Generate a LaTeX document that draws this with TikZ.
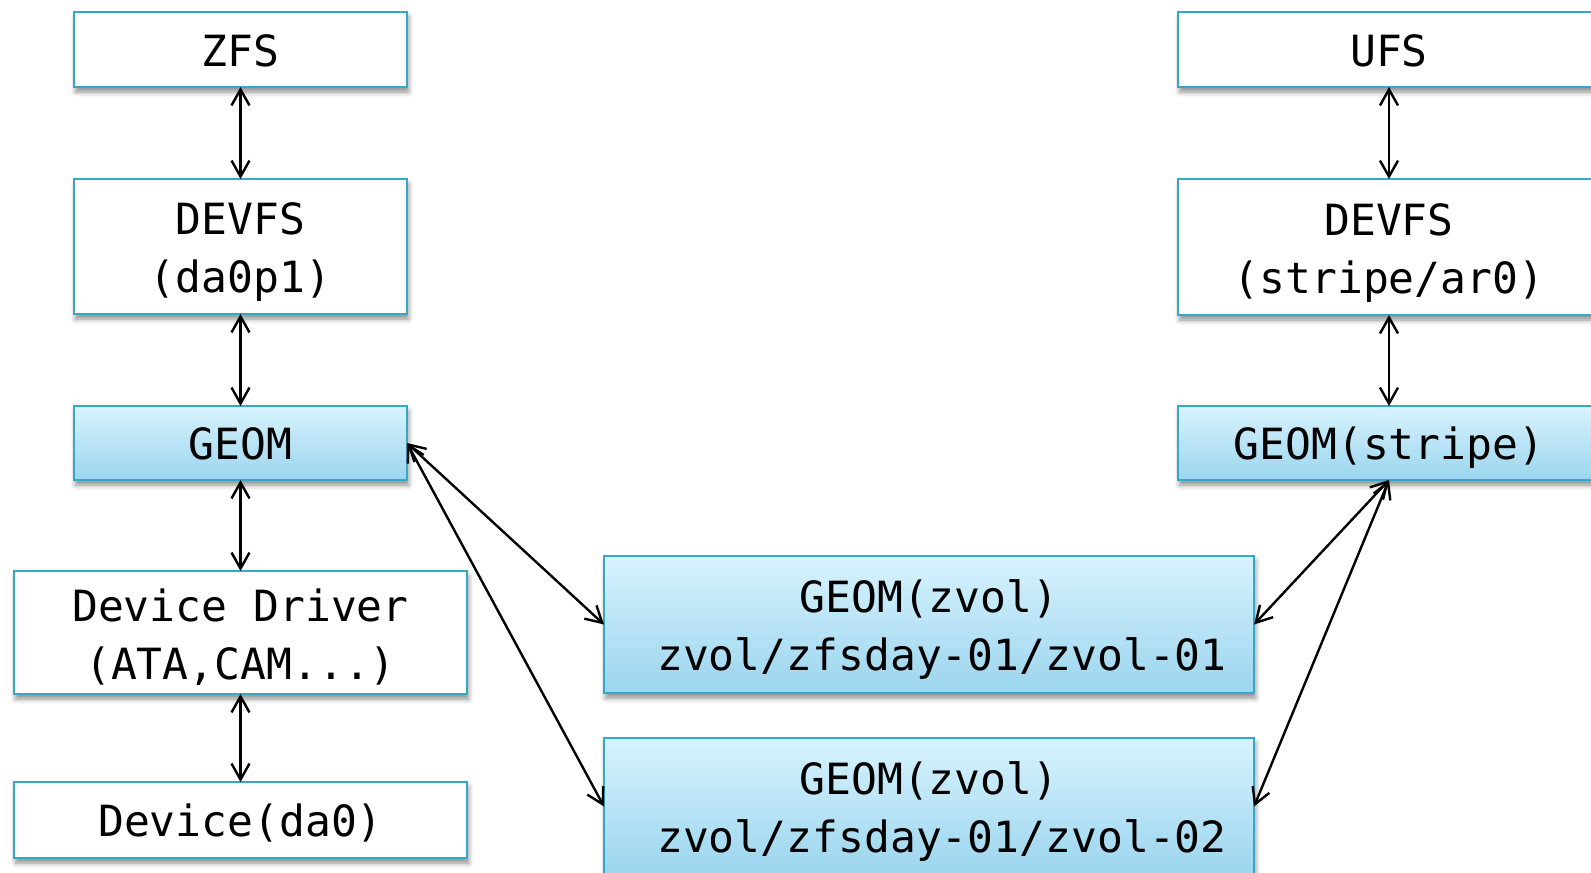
\documentclass[tikz,border=0pt]{standalone}
\usepackage{fontspec}
\setmonofont{DejaVu Sans Mono}
\usetikzlibrary{arrows.meta,shadows.blur}
\definecolor{boxline}{HTML}{35A8C9}
\definecolor{geomtop}{HTML}{D8F3FE}
\definecolor{geombot}{HTML}{9BD5EE}
% taller first line, so two-line labels sit a little lower in their boxes
\newcommand\firstline{\rule{0pt}{21.5pt}}
% fixed height and depth, so one-line labels share a common baseline
\newcommand\oneline{\rule[-5pt]{0pt}{26.5pt}}
\tikzset{
  layer/.style={draw=boxline, line width=1.2pt, fill=white, inner sep=0pt, outer sep=0pt,
    align=center, font=\ttfamily\fontsize{21.5pt}{29pt}\selectfont,
    blur shadow={shadow xshift=0.8pt, shadow yshift=-2.5pt, shadow blur radius=2.5pt, shadow opacity=45}},
  geombox/.style={layer, top color=geomtop, bottom color=geombot},
  link/.style={line width=1.2pt, {Straight Barb[length=8pt,width=9pt]}-{Straight Barb[length=8pt,width=9pt]}}
}
\begin{document}
\begin{tikzpicture}[x=0.5pt,y=-0.5pt]
\useasboundingbox (0,0) rectangle (1591,873);
% left stack
\node[layer, minimum width=166.5pt, minimum height=37.5pt] (zfs) at (240.5,49.5) {\oneline ZFS};
\node[layer, minimum width=166.5pt, minimum height=67.5pt] (devl) at (240.5,246.5) {\firstline DEVFS\\(da0p1)};
\node[geombox, minimum width=166.5pt, minimum height=37pt] (geoml) at (240.5,443) {\oneline GEOM};
\node[layer, minimum width=226.5pt, minimum height=61.5pt] (drv) at (240.5,632.5) {\firstline Device Driver\\(ATA,CAM...)};
\node[layer, minimum width=226.5pt, minimum height=38pt] (dev) at (240.5,820) {\oneline Device(da0)};
% right stack
\node[layer, minimum width=211pt, minimum height=37.5pt] (ufs) at (1389,49.5) {\oneline UFS};
\node[layer, minimum width=211pt, minimum height=68pt] (devr) at (1389,247) {\firstline DEVFS\\(stripe/ar0)};
\node[geombox, minimum width=211pt, minimum height=37pt] (geomr) at (1389,443) {\oneline GEOM(stripe)};
% zvol providers
\node[geombox, minimum width=325pt, minimum height=68.5pt] (zv1) at (929,624.5) {\firstline GEOM(zvol)\\\hphantom{0}zvol/zfsday-01/zvol-01};
\node[geombox, minimum width=325pt, minimum height=68.5pt] (zv2) at (929,806.5) {\firstline GEOM(zvol)\\\hphantom{0}zvol/zfsday-01/zvol-02};
% connections
\draw[link] (zfs.south) -- (devl.north);
\draw[link] (devl.south) -- (geoml.north);
\draw[link] (geoml.south) -- (drv.north);
\draw[link] (drv.south) -- (dev.north);
\draw[link] (ufs.south) -- (devr.north);
\draw[link] (devr.south) -- (geomr.north);
\draw[link] (geoml.east) -- (zv1.west);
\draw[link] (geoml.east) -- (zv2.west);
\draw[link] (geomr.south) -- (zv1.east);
\draw[link] (geomr.south) -- (zv2.east);
\end{tikzpicture}
\end{document}
